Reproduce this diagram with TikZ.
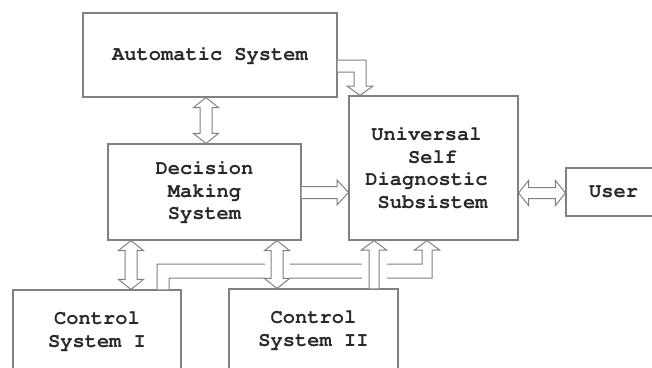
\documentclass[tikz,border=0pt]{standalone}
\usepackage[T1]{fontenc}
\usepackage{courier}
\usetikzlibrary{calc}
\definecolor{edge}{RGB}{128,128,128}
\definecolor{ink}{RGB}{40,40,40}

% vertical double block arrow between two tips (#1 above #2)
\newcommand\vdblarrow[2]{%
  \draw[blk] (#1) -- ($(#1)+(12.5,10)$) -- ($(#1)+(6,10)$) -- ($(#2)+(6,-10)$)
    -- ($(#2)+(12.5,-10)$) -- (#2) -- ($(#2)+(-12.5,-10)$) -- ($(#2)+(-6,-10)$)
    -- ($(#1)+(-6,10)$) -- ($(#1)+(-12.5,10)$) -- cycle;}
% horizontal double block arrow between two tips (#1 left of #2)
\newcommand\hdblarrow[2]{%
  \draw[blk] (#1) -- ($(#1)+(10,-12.5)$) -- ($(#1)+(10,-5.5)$) -- ($(#2)+(-10,-5.5)$)
    -- ($(#2)+(-10,-12.5)$) -- (#2) -- ($(#2)+(-10,12.5)$) -- ($(#2)+(-10,5.5)$)
    -- ($(#1)+(10,5.5)$) -- ($(#1)+(10,12.5)$) -- cycle;}

\begin{document}
\begin{tikzpicture}[x=1pt,y=-1pt,
  box/.style={draw=edge, line width=1.1pt, fill=white, inner sep=0pt, align=center,
    text=ink, font=\fontsize{20.4}{22.5}\selectfont\ttfamily\bfseries},
  boxtext/.style={box, draw=none, fill=none},
  blk/.style={draw=edge, line width=1pt, fill=white, line join=miter},
]
\useasboundingbox (0,0) rectangle (652,367);

% blocks
\node[box, minimum width=254pt, minimum height=84pt] (auto) at (210,55) {Automatic System};
\node[box, minimum width=169pt, minimum height=144pt,
  label={[boxtext, xshift=-7pt]center:{Universal\\\hspace*{0.6em}Self\\Diagnostic\\\hspace*{0.6em}Subsistem}}]
  (univ) at (433.5,168) {};
\node[box, minimum width=193pt, minimum height=96pt] (dec) at (204.5,192) {Decision\\Making\\System};
\node[box, minimum width=95pt, minimum height=48pt] (user) at (613.5,192) {User};
\node[box, minimum width=168pt, minimum height=82pt] (csa) at (97,331) {Control\\System I};
\node[box, minimum width=169pt, minimum height=82pt] (csb) at (313.5,330) {Control\\System II};

% tip points of the block arrows
\coordinate (ad1) at (206,0 |- auto.south);
\coordinate (ad2) at (206,0 |- dec.north);
\coordinate (dc1) at (131,0 |- dec.south);
\coordinate (dc2) at (131,0 |- csa.north);
\coordinate (de1) at (277,0 |- dec.south);
\coordinate (de2) at (277,0 |- csb.north);
\coordinate (uu1) at (univ.east |- 0,193);
\coordinate (uu2) at (user.west |- 0,193);

% Automatic System -> Universal Self Diagnostic Subsistem
\draw[blk] (auto.east |- 0,60) -- (366,60) -- (366,86) -- (373,86) -- (360,0 |- univ.north)
  -- (347,86) -- (354,86) -- (354,72) -- (auto.east |- 0,72);

% Decision Making System -> Universal
\draw[blk] (dec.east |- 0,186.5) -- (337,186.5) -- (337,180) -- (univ.west |- 0,192.5)
  -- (337,205) -- (337,198.5) -- (dec.east |- 0,198.5);

% Control System I -> Universal (routed below the other arrows)
\draw[blk] (157,0 |- csa.north) -- (157,264) -- (422,264) -- (422,250) -- (414.5,250)
  -- (427,0 |- univ.south) -- (439.5,250) -- (432,250) -- (432,278) -- (169,278)
  -- (169,0 |- csa.north);
\fill[white] (264.5,261) rectangle (289.5,281);
\fill[white] (361.5,261) rectangle (386.5,281);

% Control System II -> Universal
\draw[blk] (369,0 |- csb.north) -- (369,250) -- (361.5,250) -- (374,0 |- univ.south)
  -- (386.5,250) -- (379,250) -- (379,0 |- csb.north);

% two-way links
\vdblarrow{ad1}{ad2}
\vdblarrow{dc1}{dc2}
\vdblarrow{de1}{de2}
\hdblarrow{uu1}{uu2}
\end{tikzpicture}
\end{document}
